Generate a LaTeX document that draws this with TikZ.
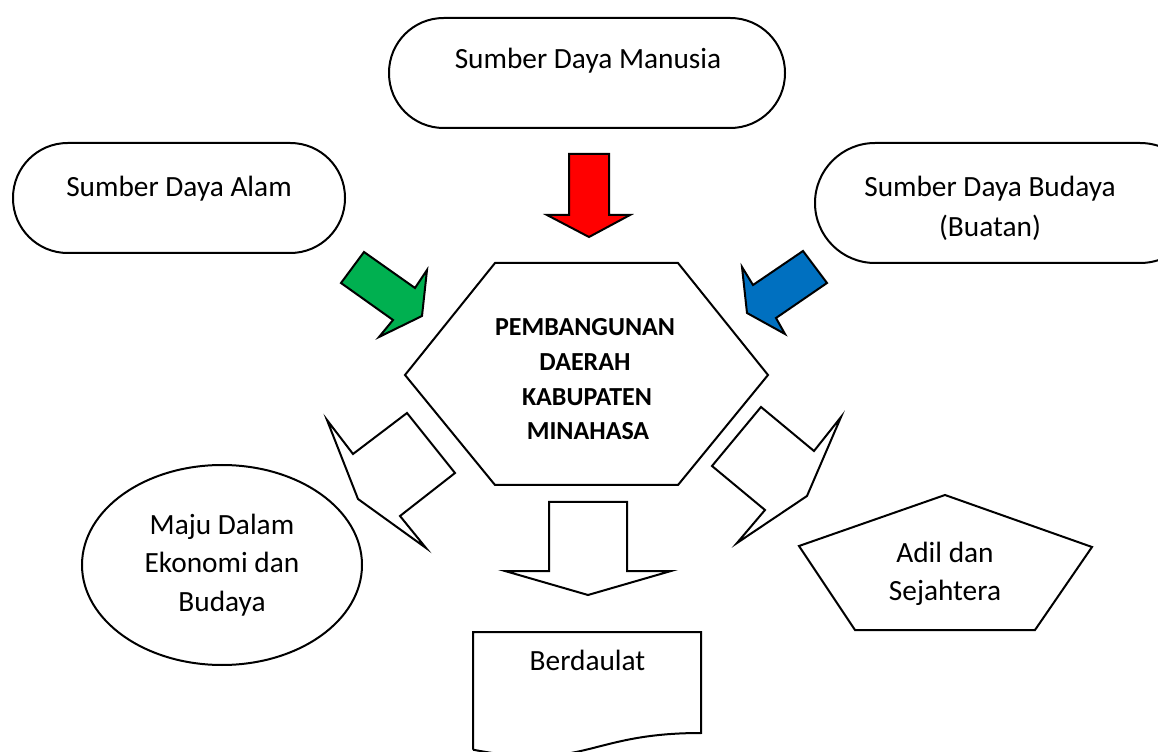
\documentclass[tikz,border=0pt]{standalone}
\usepackage{fontspec}
\setmainfont{Carlito}
\usetikzlibrary{shapes.geometric}
\definecolor{arrgreen}{HTML}{00B050}
\definecolor{arrred}{HTML}{FF0000}
\definecolor{arrblue}{HTML}{0070C0}
\tikzset{
  shapeline/.style={draw=black, line width=1.5pt, line join=miter},
  label/.style={anchor=base, inner sep=0pt, font=\fontsize{22}{26}\selectfont},
  boldlabel/.style={anchor=base, inner sep=0pt, font=\fontsize{19.5}{24}\selectfont\bfseries},
}
\begin{document}
\begin{tikzpicture}[x=0.75pt,y=-0.75pt]
\useasboundingbox (0,0) rectangle (1158,752);
\clip (0,0) rectangle (1158,752);
% top stadiums
\draw[shapeline, rounded corners=41pt] (389,18) rectangle (785,128);
\draw[shapeline, rounded corners=41pt] (13,143) rectangle (345,253);
\draw[shapeline, rounded corners=45pt] (815,143) rectangle (1200,263);
\node[label] (sdm) at (588,69) {Sumber Daya Manusia};
\node[label] (sda) at (179,197) {Sumber Daya Alam};
\node[label] (sdb1) at (990,197) {Sumber Daya Budaya};
\node[label] (sdb2) at (990,237) {(Buatan)};
% coloured arrows
\draw[shapeline, fill=arrred] (569,154) -- (609,154) -- (609,215) -- (630,215) -- (589,237) -- (547,215) -- (569,215) -- cycle;
\draw[shapeline, fill=arrgreen] (364,252) -- (415,288) -- (427,270) -- (422,316) -- (379,337) -- (393,320) -- (341,283) -- cycle;
\draw[shapeline, fill=arrblue] (803,251) -- (827,283) -- (776,318) -- (785,334) -- (747,313) -- (742,267) -- (753,285) -- cycle;
% hexagon
\draw[shapeline] (405,375) -- (495,263) -- (678,263) -- (768,375) -- (678,485) -- (495,485) -- cycle;
\node[boldlabel] (h1) at (585,336) {PEMBANGUNAN};
\node[boldlabel] (h2) at (585,371) {DAERAH};
\node[boldlabel] (h3) at (587,406) {KABUPATEN};
\node[boldlabel] (h4) at (588,440) {MINAHASA};
% white arrows
\draw[shapeline, fill=white] (407,413) -- (455,473) -- (400,516) -- (426,548) -- (358,499) -- (327,420) -- (353,454) -- cycle;
\draw[shapeline, fill=white] (761,407) -- (814,451) -- (841,417) -- (807,496) -- (737,543) -- (765,510) -- (712,466) -- cycle;
\draw[shapeline, fill=white] (549,502) -- (627,502) -- (627,571) -- (671,571) -- (588,595) -- (505,571) -- (549,571) -- cycle;
% ellipse
\draw[shapeline] (222,565) ellipse [x radius=140, y radius=100];
\node[label] (e1) at (222,534) {Maju Dalam};
\node[label] (e2) at (222,572) {Ekonomi dan};
\node[label] (e3) at (222,611) {Budaya};
% pentagon
\draw[shapeline] (945,495) -- (1092,547) -- (1035,630) -- (855,630) -- (799,546) -- cycle;
\node[label] (p1) at (945,562) {Adil dan};
\node[label] (p2) at (945,600) {Sejahtera};
% document
\draw[shapeline] (473,749.7) -- (473,632) -- (701,632) -- (701,733) .. controls (587,733) and (587,771.5) .. (473,749.7);
\node[label] (doc) at (587.5,670) {Berdaulat};
\end{tikzpicture}
\end{document}
